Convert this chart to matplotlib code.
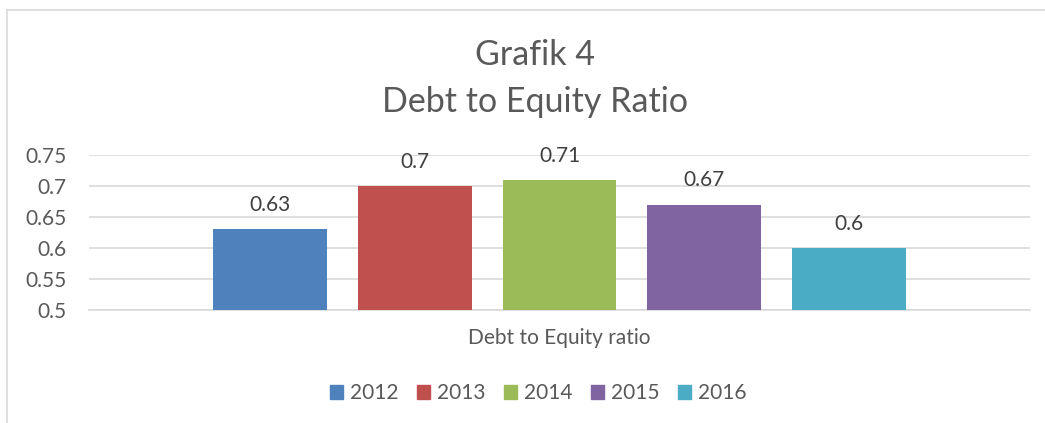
import matplotlib
matplotlib.use("Agg")
import matplotlib.pyplot as plt
from matplotlib.lines import Line2D
from matplotlib.patches import Patch

# data
years = ["2012", "2013", "2014", "2015", "2016"]
der_values = [0.63, 0.70, 0.71, 0.67, 0.60]
category = "Debt to Equity ratio"
y_ticks = [0.5, 0.55, 0.6, 0.65, 0.7, 0.75]
y_tick_labels = ["0.5", "0.55", "0.6", "0.65", "0.7", "0.75"]
colors = ["#4f81bd", "#c0504d", "#9bbb59", "#8064a2", "#4bacc6"]

plt.rcParams['font.family'] = ['Lato', 'DejaVu Sans']
txt = '#595959'
fs = 15

fig = plt.figure(figsize=(10.45, 4.23), dpi=100)
ax = fig.add_axes([89 / 1045, 1 - 310 / 423, 941 / 1045, 155 / 423])

bar_w = 0.1211
pitch = 0.154
n = len(years)
for i, (yr, v, c) in enumerate(zip(years, der_values, colors)):
    x = (i - (n - 1) / 2) * pitch
    ax.bar(x, v - 0.5, bottom=0.5, width=bar_w, color=c, zorder=3)
    lbl = f"{v:g}"
    ax.text(x, v + 0.039, lbl, ha='center', va='center', fontsize=fs, color='#404040')

ax.set_xlim(-0.5, 0.5)
ax.set_ylim(0.5, 0.75)
ax.set_yticks(y_ticks)
ax.set_yticklabels(y_tick_labels, fontsize=fs, color=txt)
ax.set_xticks([0])
ax.set_xticklabels([category], fontsize=fs, color=txt)
ax.tick_params(axis='both', length=0)
ax.tick_params(axis='y', pad=16)
ax.tick_params(axis='x', pad=13)
ax.grid(axis='y', color='#d9d9d9', linewidth=1.2, zorder=0)
for s in ('top', 'right', 'left'):
    ax.spines[s].set_visible(False)
ax.spines['bottom'].set_color('#d9d9d9')
ax.spines['bottom'].set_linewidth(1.2)

# title
fig.text(535 / 1045, 1 - 55 / 423, "Grafik 4", ha='center', va='center', fontsize=24.5, color=txt)
fig.text(535 / 1045, 1 - 102 / 423, "Debt to Equity Ratio", ha='center', va='center', fontsize=24.5, color=txt)

# legend
handles = [Patch(color=c, label=y) for y, c in zip(years, colors)]
fig.legend(handles=handles, loc='center', bbox_to_anchor=(538 / 1045, 1 - 393 / 423), ncol=5,
           frameon=False, fontsize=fs, handlelength=0.65, handleheight=0.65,
           handletextpad=0.3, columnspacing=0.9, labelcolor=txt)

# chart border
fig.add_artist(Line2D([7 / 1045, 7 / 1045], [0, 1 - 10.5 / 423], color='#d9d9d9', linewidth=1.2))
fig.add_artist(Line2D([7 / 1045, 1], [1 - 10.5 / 423, 1 - 10.5 / 423], color='#d9d9d9', linewidth=1.2))

fig.savefig("out.png", dpi=100)
